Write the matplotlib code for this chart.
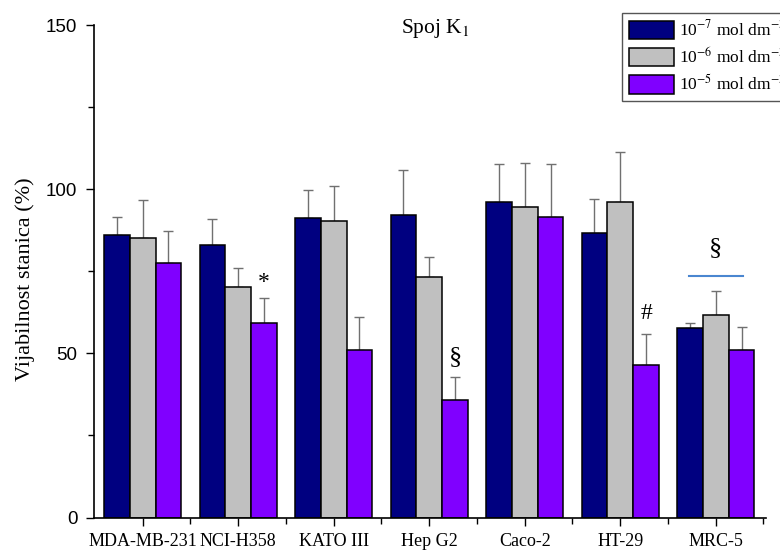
import matplotlib.pyplot as plt
import numpy as np
from matplotlib.ticker import MultipleLocator

plt.rcParams['mathtext.fontset'] = 'stix'

cell_lines = ['MDA-MB-231', 'NCI-H358', 'KATO III', 'Hep G2', 'Caco-2', 'HT-29', 'MRC-5']
conc_labels = [r'10$^{-7}$ mol dm$^{-3}$', r'10$^{-6}$ mol dm$^{-3}$', r'10$^{-5}$ mol dm$^{-3}$']

# viability (%) and upper error per concentration
c7_mean = [86.1, 82.9, 91.3, 92.2, 96.0, 86.6, 57.7]
c7_err = [5.4, 7.9, 8.6, 13.6, 11.6, 10.4, 1.5]
c6_mean = [85.2, 70.3, 90.4, 73.2, 94.7, 96.0, 61.7]
c6_err = [11.6, 5.6, 10.6, 6.1, 13.2, 15.4, 7.4]
c5_mean = [77.6, 59.3, 50.9, 35.8, 91.5, 46.4, 50.9]
c5_err = [9.8, 7.7, 10.3, 7.0, 16.3, 9.5, 7.0]

colors = ['#000080', '#c0c0c0', '#8000ff']

# significance marks (group index, bar offset, y, symbol, size)
marks = [(1, 1, 71.5, '*', 17), (3, 1, 49, '§', 19), (5, 1, 62, '#', 17), (6, 0, 82, '§', 19)]

fig = plt.figure(figsize=(7.8, 5.52), dpi=100)
ax = fig.add_axes([0.1205, 0.0625, 0.862, 0.892])

x = np.arange(len(cell_lines))
w = 0.27
series = [(c7_mean, c7_err), (c6_mean, c6_err), (c5_mean, c5_err)]
for i, (m, e) in enumerate(series):
    ax.bar(x + (i - 1) * w, m, w, color=colors[i], edgecolor='black', linewidth=1.1,
           label=conc_labels[i], zorder=2)
    ax.errorbar(x + (i - 1) * w, m, yerr=[np.zeros(len(m)), e], fmt='none',
                ecolor='#707070', elinewidth=1, capsize=3.5, capthick=1, zorder=1)

for g, off, yv, sym, fs in marks:
    ax.text(g + off * w, yv, sym, ha='center', va='center', fontsize=fs,
            family='Liberation Serif')
ax.plot([6 - 1.05 * w, 6 + 1.05 * w], [73.6, 73.6], color='#4a86d0', lw=1.5)

ax.text(3.06, 149, r'Spoj K$_1$', ha='center', va='center', fontsize=15.5,
        family='Liberation Serif')

ax.set_xlim(-0.51, 6.53)
ax.set_ylim(0, 150)
ax.set_xticks(x)
ax.set_xticklabels(cell_lines, family='Liberation Serif', fontsize=13)
ax.set_xticks(np.arange(0.5, 7, 1), minor=True)
ax.set_yticks([0, 50, 100, 150])
ax.yaxis.set_minor_locator(MultipleLocator(25))
ax.tick_params(axis='both', which='major', length=6, width=1)
ax.tick_params(axis='x', pad=5)
ax.tick_params(axis='y', labelsize=13.5, pad=6)
ax.tick_params(axis='both', which='minor', length=4, width=1)
for lbl in ax.get_yticklabels():
    lbl.set_family('Liberation Sans')
ax.set_ylabel('Vijabilnost stanica (%)', family='Liberation Serif', fontsize=16)
ax.yaxis.set_label_coords(-0.088, 0.485)

ax.spines['top'].set_visible(False)
ax.spines['right'].set_visible(False)
ax.spines['left'].set_linewidth(1.2)
ax.spines['bottom'].set_linewidth(1.2)

leg = fig.legend(loc='upper left', bbox_to_anchor=(0.797, 0.977), borderaxespad=0,
                 fancybox=False, edgecolor='#555555', framealpha=1,
                 handlelength=2.6, handleheight=1.25,
                 prop={'family': 'Liberation Serif', 'size': 12.5}, borderpad=0.4,
                 labelspacing=0.42, handletextpad=0.3)
leg.get_frame().set_linewidth(1)

fig.savefig('out.png', dpi=100)
